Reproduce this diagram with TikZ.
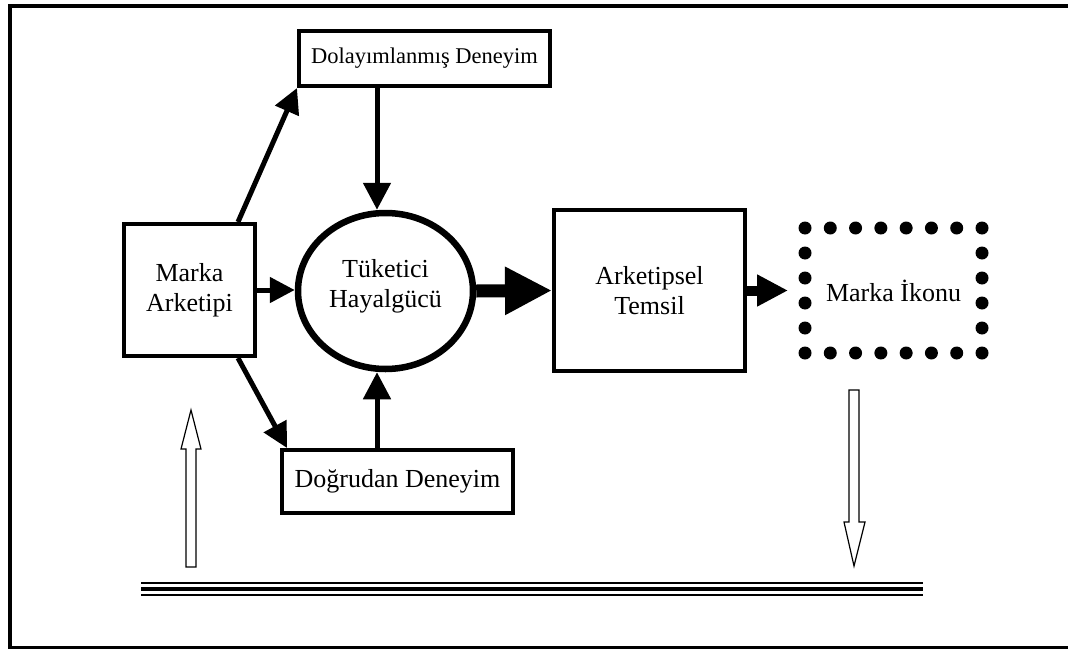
\documentclass[tikz,border=0pt]{standalone}
\usepackage{fontspec}
\setmainfont{Liberation Serif}
\usetikzlibrary{arrows.meta,shapes.geometric,calc}
\begin{document}
\begin{tikzpicture}[x=1pt,y=-1pt,
  box/.style={draw,line width=4pt,inner sep=0pt,outer sep=2pt},
  txt/.style={font=\fontsize{26}{30}\selectfont,align=center},
  conn/.style={line width=5pt,-{Triangle[length=25pt,width=25pt]}},
  hollow/.style={draw,line width=1.2pt,fill=white},
  rule/.style={line width=1.3pt},
  thickrule/.style={line width=4.5pt}]
\useasboundingbox (0,0) rectangle (1068,648);
\fill[white] (0,0) rectangle (1068,648);
\begin{scope}
\clip (0,0) rectangle (1068,648);
\draw[line width=4pt] (1080,6) -- (10,6) -- (10,647.5) -- (1080,647.5);
\end{scope}

\node[box,minimum width=251pt,minimum height=55pt,font=\fontsize{22.5}{26}\selectfont] (top) at (424.5,58.5) {Dolayımlanmış Deneyim};
\node[box,txt,minimum width=131pt,minimum height=132pt] (left) at (189.5,290) {Marka\\Arketipi};
\node[draw,ellipse,line width=6.5pt,outer sep=3.25pt,inner sep=0pt,minimum width=175pt,minimum height=156pt,txt,text depth=16pt] (ell) at (385.5,291) {Tüketici\\Hayalgücü};
\node[box,txt,minimum width=191pt,minimum height=161pt] (ark) at (649.5,290.5) {Arketipsel\\Temsil};
\node[txt,minimum width=177pt,minimum height=125pt,inner sep=0pt,outer sep=0pt] (icon) at (893.5,290.5) {Marka İkonu};
\node[box,txt,minimum width=231pt,minimum height=63pt] (bot) at (397.5,481.5) {Doğrudan Deneyim};

% dotted frame of the icon
\foreach \i in {0,...,7}{
  \fill ($(icon.north west)!\i/7!(icon.north east)$) circle[radius=6.5pt];
  \fill ($(icon.south west)!\i/7!(icon.south east)$) circle[radius=6.5pt];
}
\foreach \j in {1,...,4}{
  \fill ($(icon.north west)!\j/5!(icon.south west)$) circle[radius=6.5pt];
  \fill ($(icon.north east)!\j/5!(icon.south east)$) circle[radius=6.5pt];
}

\coordinate (ax) at (377,0);
\draw[conn,-{Triangle[length=27pt,width=27pt]}] (top.south -| ax) -- (ell.north -| ax);
\draw[conn,-{Triangle[length=27pt,width=27pt]}] (bot.north -| ax) -- (ell.south -| ax);
\draw[conn] (left.east) -- (left.east -| ell.west);
\draw[line width=13pt,-{Triangle[length=47pt,width=45pt]}] (ell.east) -- (ark.west);
\draw[line width=10pt,-{Triangle[length=31pt,width=30pt]}] (ark.east) -- ([xshift=-17pt]icon.west);
\draw[conn] ([xshift=48.5pt]left.north) -- (top.south west);
\draw[conn] ([xshift=48.5pt]left.south) -- ([xshift=7pt]bot.north west);

% hollow arrows
\draw[hollow] (186,567) -- (196,567) -- (196,449) -- (201,449) -- (191,410) -- (181,449) -- (186,449) -- cycle;
\draw[hollow] (849,390) -- (859,390) -- (859,522) -- (865,522) -- (854,566) -- (844,522) -- (849,522) -- cycle;

% double rule
\coordinate (rl) at (141,589);
\coordinate (rr) at (923,589);
\draw[rule] ([yshift=-6pt]rl) -- ([yshift=-6pt]rr);
\draw[thickrule] (rl) -- (rr);
\draw[rule] ([yshift=6pt]rl) -- ([yshift=6pt]rr);
\end{tikzpicture}
\end{document}
